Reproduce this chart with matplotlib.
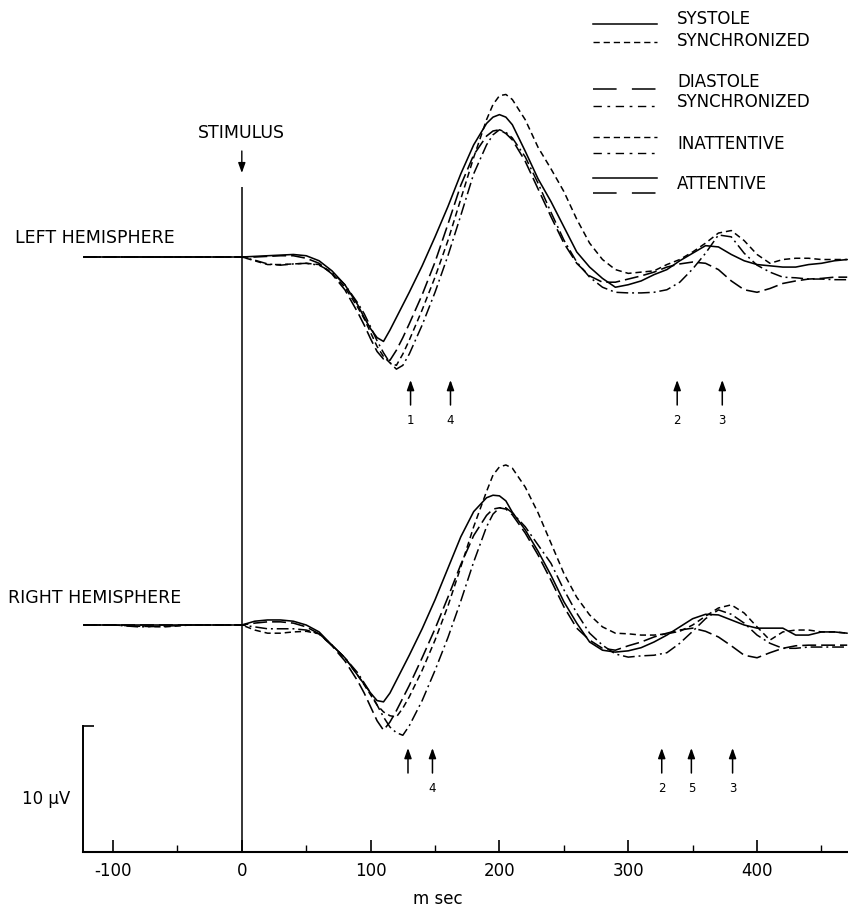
import numpy as np
import matplotlib
matplotlib.use('Agg')
import matplotlib.pyplot as plt
from matplotlib.lines import Line2D

plt.rcParams['font.family'] = ['DejaVu Sans']
plt.rcParams['lines.scale_dashes'] = False

# ---------------- data (µV relative to each hemisphere's baseline) ----------------
time_ms = [-123, -100, -80, -60, -40, -20, 0,
           10, 20, 30, 40, 50, 60, 70, 80, 90,
           95, 100, 105, 110, 115, 120, 125, 130,
           140, 150, 160, 170, 180, 190,
           195, 200, 205,
           210, 220, 230, 240, 250, 260, 270, 280, 290, 300, 310, 320, 330, 340,
           350, 360, 370, 380, 390, 400, 410, 420, 430, 440, 450, 460, 470]

# Left hemisphere
left_systole = [0, 0, 0, 0, 0, 0, 0,
                0.05, 0.1, 0.15, 0.2, 0.1, -0.3, -1.1, -2.2, -3.8,
                -4.8, -5.7, -6.4, -6.7, -5.8, -4.8, -3.8, -2.8,
                -0.7, 1.6, 4.0, 6.6, 8.9, 10.6,
                11.1, 11.3, 11.1,
                10.5, 8.4, 6.2, 4.4, 2.4, 0.4, -0.8, -1.7, -2.4, -2.2, -1.9, -1.4, -1.0, -0.3,
                0.3, 0.9, 0.8, 0.2, -0.3, -0.6, -0.7, -0.8, -0.8, -0.6, -0.5, -0.3, -0.2]
left_systole_sync = [0, 0, 0, 0, 0, 0, 0,
                     -0.3, -0.6, -0.6, -0.55, -0.5, -0.6, -1.3, -2.4, -4.0,
                     -4.9, -6.0, -7.1, -7.9, -8.4, -8.6, -7.7, -6.6,
                     -4.2, -1.6, 1.3, 4.6, 7.9, 10.9,
                     12.1, 12.8, 12.9,
                     12.5, 10.9, 8.7, 7.0, 5.2, 3.0, 1.1, -0.2, -1.0, -1.3, -1.2, -1.1, -0.6, -0.2,
                     0.4, 1.1, 1.9, 2.1, 1.3, 0.2, -0.5, -0.2, -0.1, -0.1, -0.2, -0.2, -0.2]
left_diastole = [0, 0, 0, 0, 0, 0, 0,
                 0, 0.05, 0.1, 0.1, -0.1, -0.5, -1.35, -2.6, -4.4,
                 -5.4, -6.5, -7.5, -8.1, -8.2, -7.4, -6.4, -5.3,
                 -3.0, -0.4, 2.6, 5.7, 8.1, 9.6,
                 10.0, 10.1, 9.8,
                 9.3, 7.6, 5.4, 3.2, 1.1, -0.5, -1.5, -2.0, -2.0, -1.75, -1.5, -1.2, -0.8, -0.55,
                 -0.4, -0.5, -1.0, -1.9, -2.6, -2.8, -2.5, -2.1, -1.9, -1.75, -1.7, -1.6, -1.6]
left_diastole_sync = [0, 0, 0, 0, 0, 0, 0,
                      -0.25, -0.55, -0.65, -0.55, -0.5, -0.65, -1.2, -2.2, -3.65,
                      -4.5, -5.55, -6.65, -7.6, -8.4, -8.9, -8.6, -7.7,
                      -5.4, -2.8, 0.1, 3.3, 6.6, 8.9,
                      9.7, 10.1, 9.9,
                      9.45, 7.95, 5.85, 3.55, 1.35, -0.4, -1.6, -2.4, -2.8, -2.85, -2.85, -2.8, -2.6, -2.0,
                      -0.95, 0.3, 1.75, 1.6, 0.3, -0.65, -1.2, -1.6, -1.65, -1.75, -1.75, -1.8, -1.8]

# Right hemisphere
right_systole = [0, 0, 0, 0, 0, 0, 0,
                 0.3, 0.4, 0.4, 0.3, 0, -0.55, -1.6, -2.6, -4.0,
                 -4.7, -5.4, -6.0, -6.1, -5.4, -4.4, -3.4, -2.4,
                 -0.3, 2.0, 4.5, 7.0, 9.0, 10.1,
                 10.3, 10.25, 9.85,
                 8.95, 7.55, 5.85, 3.95, 1.85, 0.15, -1.35, -2.0, -2.15, -2.05, -1.8, -1.35, -0.8, -0.15,
                 0.5, 0.85, 0.8, 0.4, 0, -0.25, -0.25, -0.25, -0.8, -0.8, -0.55, -0.55, -0.65]
right_systole_sync = [0, 0, -0.1, -0.15, 0, 0, 0,
                      -0.4, -0.65, -0.65, -0.55, -0.5, -0.7, -1.6, -2.6, -4.0,
                      -4.75, -5.55, -6.35, -6.9, -7.2, -7.3, -6.6, -5.7,
                      -3.6, -1.2, 1.5, 4.6, 7.8, 10.6,
                      11.9, 12.55, 12.7,
                      12.45, 10.95, 8.9, 6.5, 4.1, 2.2, 0.8, -0.15, -0.65, -0.7, -0.8, -0.8, -0.7, -0.5,
                      0, 0.7, 1.35, 1.6, 0.95, -0.15, -1.2, -0.55, -0.4, -0.4, -0.55, -0.55, -0.65]
right_diastole = [0, 0, 0, 0, 0, 0, 0,
                  0.15, 0.25, 0.25, 0.15, -0.15, -0.7, -1.65, -2.85, -4.45,
                  -5.4, -6.5, -7.6, -8.35, -7.7, -6.8, -5.8, -4.8,
                  -2.6, -0.3, 2.2, 4.8, 7.1, 8.7,
                  9.2, 9.3, 9.2,
                  8.75, 7.3, 5.55, 3.55, 1.45, -0.25, -1.2, -1.85, -2.0, -1.65, -1.35, -0.95, -0.65, -0.4,
                  -0.25, -0.5, -0.95, -1.65, -2.4, -2.6, -2.2, -1.85, -1.65, -1.6, -1.6, -1.6, -1.6]
right_diastole_sync = [0, 0, -0.15, -0.1, 0, 0, 0,
                       -0.15, -0.3, -0.3, -0.3, -0.4, -0.7, -1.6, -2.6, -3.8,
                       -4.6, -5.4, -6.35, -7.3, -8.1, -8.55, -8.75, -8.0,
                       -6.0, -3.6, -1.0, 1.9, 5.0, 7.8,
                       8.8, 9.3, 9.3,
                       8.9, 7.8, 6.35, 4.9, 2.8, 0.95, -0.65, -1.6, -2.3, -2.55, -2.45, -2.4, -2.2, -1.45,
                       -0.5, 0.5, 1.2, 0.85, 0.15, -0.8, -1.45, -1.85, -1.85, -1.75, -1.75, -1.75, -1.75]

left_arrow_ms = [131, 162, 338, 373]
left_arrow_labels = ['1', '4', '2', '3']
right_arrow_ms = [129, 148, 326, 349, 381]
right_arrow_labels = ['', '4', '2', '5', '3']

x_major_ticks = [-100, 0, 100, 200, 300, 400]
x_major_labels = ['-100', '0', '100', '200', '300', '400']
x_minor_ticks = [-50, 50, 150, 250, 350, 450]

legend_labels = ['SYSTOLE', 'SYNCHRONIZED', 'DIASTOLE', 'SYNCHRONIZED', 'INATTENTIVE', 'ATTENTIVE']

# ---------------- layout ----------------
W, H = 848, 909
PX_PER_UV = 12.6
fig = plt.figure(figsize=(W / 100, H / 100), dpi=100)
ax = fig.add_axes([83 / W, (H - 852) / H, (W - 83) / W, 852 / H])
ax.set_xlim(-123.3, 470.6)
ax.set_ylim(0, 852 / PX_PER_UV)

def uv(py):
    """pixel row (from top) -> axis units (µV above x axis)"""
    return (852 - py) / PX_PER_UV

left_base = uv(257)
right_base = uv(625)

styles = {
    'sys': dict(ls='-', lw=1.15),
    'sys_sync': dict(ls=(0, (4.5, 2.8)), lw=1.1),
    'dia': dict(ls=(0, (10, 3.6)), lw=1.15),
    'dia_sync': dict(ls=(0, (8.5, 2.8, 1.4, 2.8)), lw=1.1),
}

t = np.array(time_ms, dtype=float)
for base, group in [(left_base, [('sys', left_systole), ('sys_sync', left_systole_sync),
                                 ('dia', left_diastole), ('dia_sync', left_diastole_sync)]),
                    (right_base, [('sys', right_systole), ('sys_sync', right_systole_sync),
                                  ('dia', right_diastole), ('dia_sync', right_diastole_sync)])]:
    for key, vals in group:
        ax.plot(t, np.array(vals) + base, color='black', solid_capstyle='round',
                dash_capstyle='butt', solid_joinstyle='round', **styles[key])

# stimulus line and label
ax.vlines(0, 0, uv(187), color='black', lw=1.1)
ax.annotate('', xy=(0, uv(173)), xytext=(0, uv(151)),
            arrowprops=dict(arrowstyle='-|>,head_length=0.5,head_width=0.18',
                            mutation_scale=12, color='black', lw=1.0,
                            shrinkA=0, shrinkB=0))
ax.text(0, uv(133), 'STIMULUS', ha='center', va='center', fontsize=12.5)

# component arrows
arrow_kw = dict(arrowstyle='-|>,head_length=0.5,head_width=0.18', mutation_scale=12,
                color='black', lw=1.1, shrinkA=0, shrinkB=0)
for ms, lab in zip(left_arrow_ms, left_arrow_labels):
    ax.annotate('', xy=(ms, uv(380)), xytext=(ms, uv(405)), arrowprops=arrow_kw)
    ax.text(ms, uv(420), lab, ha='center', va='center', fontsize=8.5)
for ms, lab in zip(right_arrow_ms, right_arrow_labels):
    ax.annotate('', xy=(ms, uv(748)), xytext=(ms, uv(773)), arrowprops=arrow_kw)
    ax.text(ms, uv(788), lab, ha='center', va='center', fontsize=8.5)

# axes styling
for s in ['top', 'right']:
    ax.spines[s].set_visible(False)
ax.spines['bottom'].set_linewidth(1.5)
ax.spines['left'].set_linewidth(1.4)
ax.spines['left'].set_bounds(0, 10)
ax.set_yticks([10])
ax.set_yticklabels([''])
ax.tick_params(axis='y', direction='in', length=8, width=1.2)
ax.set_xticks(x_major_ticks)
ax.set_xticklabels(x_major_labels)
ax.set_xticks(x_minor_ticks, minor=True)
ax.tick_params(axis='x', which='major', direction='in', length=9, width=1.2,
               pad=7, labelsize=12)
ax.tick_params(axis='x', which='minor', direction='in', length=4.8, width=1.0)
ax.set_xlabel('m sec', fontsize=12)
ax.xaxis.set_label_coords((438 - 83) / (W - 83), -47 / 852)
ax.xaxis.label.set_va('center')
ax.patch.set_alpha(0)

# figure-level labels
def fx(px):
    return px / W

def fy(py):
    return 1 - py / H

fig.text(fx(15), fy(238), 'LEFT HEMISPHERE', ha='left', va='center', fontsize=12.5)
fig.text(fx(8), fy(598), 'RIGHT HEMISPHERE', ha='left', va='center', fontsize=12.5)
fig.text(fx(70), fy(799), '10 μV', ha='right', va='center', fontsize=12)

# legend (manual, two-line groups as in the original)
lx0, lx1 = fx(593), fx(657)
leg_lines = [
    (24, dict(ls='-', lw=1.1)),
    (42, dict(ls=(0, (4.5, 2.8)), lw=1.0)),
    (89, dict(ls=(0, (17, 11)), lw=1.1)),
    (106, dict(ls=(0, (6, 4, 2, 4)), lw=1.0)),
    (137, dict(ls=(0, (4.5, 2.8)), lw=1.0)),
    (153, dict(ls=(0, (6, 4, 2, 4)), lw=1.0)),
    (178, dict(ls='-', lw=1.1)),
    (193, dict(ls=(0, (17, 11)), lw=1.1)),
]
for py, kw in leg_lines:
    fig.add_artist(Line2D([lx0, lx1], [fy(py), fy(py)], transform=fig.transFigure,
                          color='black', **kw))
leg_text_y = [19, 41, 82, 102, 144, 184]
for py, lab in zip(leg_text_y, legend_labels):
    fig.text(fx(677), fy(py), lab, ha='left', va='center', fontsize=12)

fig.savefig('out.png', dpi=100, facecolor='white')
